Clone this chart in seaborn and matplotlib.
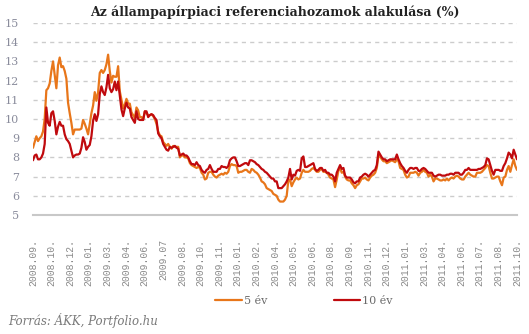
import numpy as np
import pandas as pd
import matplotlib
matplotlib.use("Agg")
import matplotlib.pyplot as plt
import seaborn as sns

title = "Az állampapírpiaci referenciahozamok alakulása (%)"
source = "Forrás: ÁKK, Portfolio.hu"
series_names = ["5 év", "10 év"]
tick_labels = ["2008.09.", "2008.10.", "2008.12.", "2009.01.", "2009.03.", "2009.04.",
               "2009.06.", "2009.07", "2009.08.", "2009.10.", "2009.11.", "2010.01.",
               "2010.02.", "2010.04.", "2010.05.", "2010.06.", "2010.08.", "2010.09.",
               "2010.11.", "2010.12.", "2011.01.", "2011.03.", "2011.04.", "2011.06.",
               "2011.07.", "2011.08.", "2011.10."]
y_ticks = [5, 6, 7, 8, 9, 10, 11, 12, 13, 14, 15]

five_year = [
    8.5, 8.8, 9.1, 8.85, 9.0, 9.1, 9.35, 10.0, 11.5, 11.6,
    11.85, 12.5, 13.0, 12.3, 11.6, 12.8, 13.2, 12.7, 12.75, 12.5,
    12.1, 10.85, 10.3, 9.8, 9.2, 9.45, 9.45, 9.45, 9.45, 9.5,
    9.95, 9.75, 9.5, 9.2, 9.75, 10.3, 10.7, 11.4, 10.95, 11.4,
    12.4, 12.55, 12.4, 12.55, 12.85, 13.35, 12.5, 11.9, 12.25, 12.2,
    12.2, 12.75, 11.45, 11.0, 10.55, 10.75, 11.05, 10.8, 10.8,
    10.35, 10.2, 10.05, 10.6, 10.45, 10.1, 10.1, 9.95, 10.4, 10.3,
    10.2, 10.2, 10.25, 10.15, 10.0, 9.75, 9.35, 9.15, 9.1, 8.8,
    8.7, 8.6, 8.7, 8.55, 8.45, 8.6, 8.55, 8.55, 8.55, 8.0,
    8.1, 8.1, 8.0, 8.0, 7.95, 7.7, 7.6, 7.55, 7.5, 7.45,
    7.5, 7.45, 7.2, 7.1, 6.85, 6.9, 7.2, 7.25, 7.25, 7.1,
    7.0, 6.95, 7.05, 7.1, 7.15, 7.1, 7.2,
    7.15, 7.25, 7.55, 7.65, 7.6, 7.6, 7.55, 7.2, 7.25, 7.25,
    7.3, 7.35, 7.35, 7.25, 7.2, 7.4, 7.35, 7.25, 7.2, 7.1,
    6.95, 6.75, 6.7, 6.6, 6.4, 6.35, 6.3, 6.25, 6.1, 6.05,
    6.0, 5.8, 5.7, 5.7, 5.7, 5.8, 6.0, 6.8, 6.85, 6.5,
    6.7, 6.85, 6.95, 6.85, 6.9, 7.2, 7.35, 7.25, 7.25, 7.25,
    7.3, 7.4, 7.45, 7.35, 7.25, 7.25, 7.35, 7.4, 7.25, 7.25,
    7.2, 7.1, 6.95,
    6.9, 6.85, 6.45, 6.85, 7.3, 7.45, 7.2, 7.25, 7.0, 6.85,
    6.8, 6.8, 6.65, 6.55, 6.4, 6.55, 6.6, 6.75, 6.9, 6.9,
    6.95, 6.85, 6.8, 6.95, 7.05, 7.1, 7.2, 7.45, 8.1, 8.05,
    7.9, 7.8, 7.8, 7.7, 7.75, 7.8, 7.85, 7.8, 7.75, 7.9,
    7.8, 7.45, 7.4, 7.35, 7.1, 6.95, 7.0, 7.2, 7.2, 7.2,
    7.25, 7.2, 7.05, 7.2, 7.25, 7.35, 7.25, 7.2, 7.0, 7.1,
    7.0, 6.75, 6.9, 6.9, 6.85, 6.8, 6.8, 6.85, 6.8, 6.9,
    6.8, 6.9, 6.95, 6.9, 7.0, 7.05, 7.0, 6.9, 6.85, 6.85,
    7.0, 7.1, 7.2, 7.1, 7.05, 7.0, 7.0, 7.2, 7.2, 7.2,
    7.25, 7.35, 7.45, 7.6, 7.55, 7.2, 6.9, 6.9, 6.95, 7.0,
    7.0, 6.75, 6.55, 6.95, 7.0, 7.35, 7.55, 7.25, 7.6, 7.9,
    7.55, 7.35,
]

ten_year = [
    7.85, 8.1, 8.15, 7.9, 7.9, 8.0, 8.2, 8.7, 10.6, 9.8,
    9.65, 10.3, 10.4, 9.9, 9.2, 9.6, 9.85, 9.65, 9.65, 9.2,
    8.95, 8.85, 8.7, 8.35, 8.0, 8.1, 8.15, 8.15, 8.2, 8.5,
    9.05, 8.8, 8.4, 8.55, 8.65, 9.1, 9.9, 10.25, 9.9, 10.25,
    11.3, 11.7, 11.4, 11.25, 11.65, 12.3, 11.6, 11.4, 11.55, 11.95,
    11.5, 11.95, 11.2, 10.5, 10.15, 10.55, 10.85, 10.6, 10.55,
    10.1, 9.95, 9.8, 10.4, 10.0, 9.95, 9.95, 9.95, 10.4, 10.4,
    10.1, 10.2, 10.25, 10.2, 10.05, 9.95, 9.25, 9.1, 9.0, 8.7,
    8.55, 8.4, 8.35, 8.55, 8.5, 8.55, 8.6, 8.5, 8.45, 8.1,
    8.15, 8.2, 8.1, 8.1, 8.0, 7.8, 7.65, 7.65, 7.6, 7.75,
    7.6, 7.55, 7.35, 7.25, 7.2, 7.35, 7.4, 7.6, 7.4, 7.25,
    7.25, 7.25, 7.4, 7.4, 7.55, 7.5, 7.5,
    7.45, 7.55, 7.85, 7.95, 8.0, 8.0, 7.8, 7.55, 7.55, 7.6,
    7.65, 7.7, 7.7, 7.6, 7.85, 7.85, 7.8, 7.75, 7.65, 7.6,
    7.5, 7.4, 7.35, 7.25, 7.2, 7.1, 7.0, 6.9, 6.9, 6.75,
    6.75, 6.4, 6.4, 6.4, 6.5, 6.6, 6.75, 6.95, 7.4, 6.85,
    7.1, 7.05, 7.3, 7.35, 7.3, 7.95, 8.05, 7.5, 7.5, 7.55,
    7.6, 7.65, 7.7, 7.4, 7.3, 7.35, 7.45, 7.45, 7.3, 7.35,
    7.2, 7.2, 7.1,
    7.1, 7.0, 6.75, 7.2, 7.4, 7.6, 7.4, 7.45, 7.05, 6.95,
    6.95, 6.95, 6.85, 6.7, 6.65, 6.75, 6.75, 6.95, 7.0, 7.1,
    7.15, 7.1, 7.0, 7.1, 7.2, 7.3, 7.35, 7.6, 8.3, 8.15,
    8.0, 7.9, 7.9, 7.8, 7.85, 7.9, 7.9, 7.9, 7.9, 8.15,
    7.9, 7.7, 7.55, 7.45, 7.3, 7.2, 7.35, 7.45, 7.45, 7.4,
    7.45, 7.45, 7.3, 7.3, 7.4, 7.45, 7.4, 7.3, 7.2, 7.2,
    7.2, 7.05, 7.0, 7.05, 7.1, 7.1, 7.05, 7.05, 7.05, 7.1,
    7.1, 7.15, 7.15, 7.1, 7.2, 7.2, 7.2, 7.1, 7.1, 7.2,
    7.35, 7.35, 7.45, 7.35, 7.35, 7.35, 7.35, 7.35, 7.4, 7.4,
    7.45, 7.5, 7.6, 7.95, 7.9, 7.6, 7.3, 7.1, 7.35, 7.35,
    7.35, 7.3, 7.3, 7.55, 7.7, 7.95, 8.25, 8.15, 7.95, 8.4,
    8.15, 7.9,
]

colors = {"5 év": "#E8761A", "10 év": "#C00A0E"}

sns.set_theme(style="white")
plt.rcParams["font.family"] = ["DejaVu Serif"]

n = len(five_year)
df = pd.DataFrame({
    "idx": np.concatenate([np.arange(n), np.arange(len(ten_year))]),
    "value": five_year + ten_year,
    "series": [series_names[0]] * n + [series_names[1]] * len(ten_year),
})

W, H = 529, 334
fig = plt.figure(figsize=(W / 100, H / 100), dpi=100)
ax = fig.add_axes([33 / W, 1 - 215 / H, (517 - 33) / W, (215 - 23) / H])

for v in y_ticks[1:]:
    ax.axhline(v, color="#cccccc", lw=1.0, ls=(0, (3, 3)), zorder=0)

sns.lineplot(data=df, x="idx", y="value", hue="series", hue_order=series_names,
             palette=colors, linewidth=1.6, estimator=None, ax=ax)

ax.set_xlim(0, n - 1)
ax.set_ylim(5, 15)
ax.set_yticks(y_ticks)
ax.set_yticklabels([str(t) for t in y_ticks], fontsize=8, color="#8a8c9c")
ax.set_xticks(np.linspace(0, n - 1, len(tick_labels)))
ax.set_xticklabels(tick_labels, rotation=90, fontsize=7, color="#8a8a8a",
                   family="Liberation Mono")
ax.tick_params(axis="x", length=0, pad=17)
ax.tick_params(axis="y", length=0, pad=10)
ax.set_xlabel("")
ax.set_ylabel("")
for s in ["top", "right", "left"]:
    ax.spines[s].set_visible(False)
ax.spines["bottom"].set_color("#c8c8c8")
ax.spines["bottom"].set_linewidth(1.5)

fig.text(275 / W, 1 - 12 / H, title, ha="center", va="center",
         fontsize=9, fontweight="bold", color="#222222")
fig.text(8 / W, 1 - 321 / H, source, ha="left", va="center",
         fontsize=8.5, style="italic", color="#7a7a7a")

sns.move_legend(ax, "center", bbox_to_anchor=(304 / W, 1 - 301 / H),
                bbox_transform=fig.transFigure, ncol=2, frameon=False, title=None,
                fontsize=8, handlelength=2.4, handletextpad=0.15, columnspacing=6.0,
                labelcolor="#6a6a6a")

fig.savefig("out.png", dpi=100)
